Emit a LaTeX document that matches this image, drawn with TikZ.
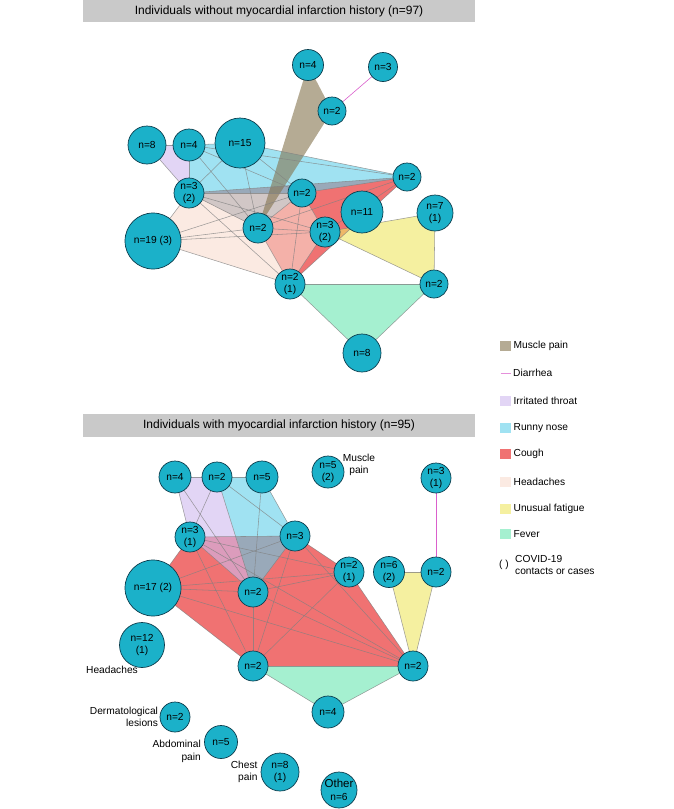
\documentclass[tikz,border=0pt]{standalone}
\usepackage{fontspec}
\setmainfont{Liberation Sans}
\usetikzlibrary{positioning,backgrounds}

\definecolor{nodefill}{RGB}{27,177,201}
\definecolor{nodeline}{RGB}{12,60,76}
\definecolor{musc}{RGB}{132,115,77}
\definecolor{diar}{RGB}{218,96,204}
\definecolor{throat}{RGB}{207,185,238}
\definecolor{runny}{RGB}{97,207,233}
\definecolor{cough}{RGB}{230,20,20}
\definecolor{head}{RGB}{248,220,207}
\definecolor{fatig}{RGB}{238,230,97}
\definecolor{fever}{RGB}{105,230,177}
\definecolor{titlebg}{RGB}{201,201,201}

\newcommand{\nfont}{\fontsize{10.2}{12.5}\selectfont}

\begin{document}
\begin{tikzpicture}[x=1pt,y=-1pt,
    sym/.style={circle, draw=nodeline, line width=0.7pt, fill=nodefill,
        inner sep=0pt, align=center, font=\nfont, minimum size=#1}]
    \tikzstyle{hull} = [fill opacity=0.6, draw=none]
    \tikzstyle{link} = [draw=gray, line width=0.55pt, opacity=0.75]
    \tikzstyle{tag} = [font=\nfont, inner sep=0pt]
    \tikzstyle{banner} = [fill=titlebg, font=\fontsize{12}{13}\selectfont,
        minimum width=392pt, minimum height=22.5pt, inner sep=0pt]
    \tikzstyle{key} = [minimum width=10.5pt, minimum height=9.5pt, inner sep=0pt]
    \useasboundingbox (0,0) rectangle (674,809);

    % top panel
    \node[banner] (ttitle) at (279,11) {Individuals without myocardial infarction history (n=97)};
    \node[sym=31pt] (t4a) at (308,65) {n=4};
    \node[sym=29pt] (t3a) at (383,67) {n=3};
    \node[sym=28pt] (t2a) at (332,111) {n=2};
    \node[sym=38pt] (t8a) at (147,145) {n=8};
    \node[sym=32pt] (t4b) at (189,145) {n=4};
    \node[sym=50pt] (t15) at (240,143) {n=15};
    \node[sym=30pt] (t3b) at (189,193) {n=3\\(2)};
    \node[sym=28pt] (t2b) at (302,193) {n=2};
    \node[sym=28pt] (t2c) at (407,177) {n=2};
    \node[sym=42pt] (t11) at (362,212) {n=11};
    \node[sym=36pt] (t7) at (435,213) {n=7\\(1)};
    \node[sym=56pt] (t19) at (153,241) {n=19 (3)};
    \node[sym=30pt] (t2d) at (258,228) {n=2};
    \node[sym=30pt] (t3c) at (325,232) {n=3\\(2)};
    \node[sym=30pt] (t2e) at (290,284) {n=2\\(1)};
    \node[sym=28pt] (t2f) at (434,284) {n=2};
    \node[sym=38pt] (t8b) at (362,353) {n=8};

    \begin{scope}[on background layer]
    \fill[cough, hull] (t3b.center) -- (t2c.center) -- (t2e.center) -- (t2d.center) -- cycle;
    \fill[runny, hull] (t4b.center) -- (t15.center) -- (t2c.center) -- (t2b.center)
        -- (t2d.center) -- (t3b.center) -- cycle;
    \fill[throat, hull] (t8a.center) -- (t4b.center) -- (t3b.center) -- cycle;
    \fill[head, hull] (t3b.center) -- (t2b.center) -- (t3c.center) -- (t2e.center)
        -- (t19.center) -- cycle;
    \fill[musc, hull] (t4a.center) -- (t2a.center) -- (t2d.center) -- cycle;
    \fill[fatig, hull] (t3c.center) -- (t7.center) -- (t2f.center) -- cycle;
    \fill[fever, hull] (t2e.center) -- (t2f.center) -- (t8b.center) -- cycle;

    \foreach \a/\b in {t4b/t15, t4b/t2c, t4b/t2b, t4b/t2d, t4b/t3b, t15/t2c, t15/t2b,
        t15/t2d, t15/t3b, t2c/t2b, t2c/t2d, t2c/t3b, t2b/t2d, t2b/t3b, t2d/t3b,
        t3b/t3c, t3b/t2e, t2c/t3c, t2c/t2e, t2b/t3c, t2b/t2e, t2d/t3c, t2d/t2e,
        t3c/t2e, t19/t3b, t19/t2b, t19/t2d, t19/t3c, t19/t2e, t8a/t4b, t8a/t3b,
        t3c/t7, t7/t2f, t3c/t2f, t2e/t2f, t2f/t8b, t2e/t8b}
        \draw[link] (\a) -- (\b);
    \draw[diar, line width=0.6pt] (t3a) -- (t2a);
    \end{scope}

    % bottom panel
    \node[banner] (btitle) at (279,425.5) {Individuals with myocardial infarction history (n=95)};
    \node[sym=32pt] (b4) at (175,477) {n=4};
    \node[sym=30pt] (b2a) at (217,477) {n=2};
    \node[sym=32pt] (b5a) at (262,477) {n=5};
    \node[sym=32pt] (b5b) at (328,472) {n=5\\(2)};
    \node[sym=30pt] (b3a) at (436,478) {n=3\\(1)};
    \node[sym=30pt] (b3b) at (190,537) {n=3\\(1)};
    \node[sym=30pt] (b3c) at (295,536) {n=3};
    \node[sym=30pt] (b2b) at (349,572) {n=2\\(1)};
    \node[sym=31pt] (b6a) at (389,572) {n=6\\(2)};
    \node[sym=30pt] (b2c) at (436,572) {n=2};
    \node[sym=56pt] (b17) at (153,588) {n=17 (2)};
    \node[sym=30pt] (b2d) at (253,592) {n=2};
    \node[sym=45pt] (b12) at (142,645) {n=12\\(1)};
    \node[sym=30pt] (b2e) at (253,666) {n=2};
    \node[sym=30pt] (b2f) at (413,666) {n=2};
    \node[sym=32pt] (b4b) at (328,712) {n=4};
    \node[sym=30pt] (b2g) at (175,717) {n=2};
    \node[sym=33pt] (b5c) at (221,742) {n=5};
    \node[sym=38pt] (b8) at (280,772) {n=8\\(1)};
    \node[sym=36pt] (b6b) at (339,790) {{\fontsize{11.5}{12}\selectfont Other}\\n=6};

    \node[tag, align=center] (lmus) at (359,465) {Muscle\\pain};
    \node[tag] (lhead) at (112,670) {Headaches};
    \node[tag, align=right, left=1.5pt of b2g] (lderm) {Dermatological\\lesions};
    \node[tag, align=right, anchor=east] (labd) at (201,751.5) {Abdominal\\pain};
    \node[tag, align=right, left=3pt of b8] (lchest) {Chest\\pain};

    \begin{scope}[on background layer]
    \fill[cough, hull] (b3b.center) -- (b3c.center) -- (b2b.center) -- (b2f.center)
        -- (b2e.center) -- (b17.center) -- cycle;
    \fill[runny, hull] (b2a.center) -- (b5a.center) -- (b3c.center) -- (b2d.center) -- cycle;
    \fill[throat, hull] (b4.center) -- (b2a.center) -- (b2d.center) -- (b3b.center) -- cycle;
    \fill[fatig, hull] (b6a.center) -- (b2c.center) -- (b2f.center) -- cycle;
    \fill[fever, hull] (b2e.center) -- (b2f.center) -- (b4b.center) -- cycle;

    \foreach \a/\b in {b4/b2a, b4/b3b, b4/b2d, b2a/b3b, b2a/b2d, b3b/b2d,
        b2a/b5a, b2a/b3c, b5a/b3c, b5a/b2d, b3c/b2d,
        b3b/b3c, b3b/b2b, b3b/b2f, b3b/b2e, b3b/b17, b3c/b2b, b3c/b2f, b3c/b2e,
        b3c/b17, b2b/b2f, b2b/b2e, b2b/b17, b2b/b2d, b2f/b2e, b2f/b17, b2f/b2d,
        b2e/b17, b2e/b2d, b17/b2d,
        b6a/b2c, b2c/b2f, b6a/b2f, b2e/b4b, b2f/b4b}
        \draw[link] (\a) -- (\b);
    \draw[diar, line width=0.6pt] (b3a) -- (b2c);
    \end{scope}

    % legend
    \node[key, fill=musc, fill opacity=0.6] (kmus) at (505.5,346) {};
    \node[tag, right=2.5pt of kmus] {Muscle pain};
    \coordinate (kdiaA) at (500.5,373);
    \coordinate (kdiaB) at (510.5,373);
    \draw[diar!70, line width=1pt] (kdiaA) -- (kdiaB);
    \node[tag, anchor=west] at (513,373) {Diarrhea};
    \node[key, fill=throat, fill opacity=0.6] (kthr) at (505.5,401) {};
    \node[tag, right=2.5pt of kthr] {Irritated throat};
    \node[key, fill=runny, fill opacity=0.6] (krun) at (505.5,428) {};
    \node[tag, right=2.5pt of krun] {Runny nose};
    \node[key, fill=cough, fill opacity=0.6] (kcou) at (505.5,454) {};
    \node[tag, right=2.5pt of kcou] {Cough};
    \node[key, fill=head, fill opacity=0.6] (khea) at (505.5,482) {};
    \node[tag, right=2.5pt of khea] {Headaches};
    \node[key, fill=fatig, fill opacity=0.6] (kfat) at (505.5,509) {};
    \node[tag, right=2.5pt of kfat] {Unusual fatigue};
    \node[key, fill=fever, fill opacity=0.6] (kfev) at (505.5,534) {};
    \node[tag, right=2.5pt of kfev] {Fever};
    \node[tag] (kcov) at (504,565) {( )};
    \node[tag, align=left, anchor=west] at (515,565) {COVID-19\\contacts or cases};
\end{tikzpicture}
\end{document}
